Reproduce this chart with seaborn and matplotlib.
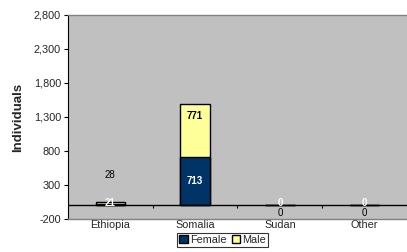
import matplotlib
matplotlib.use("Agg")
import matplotlib.pyplot as plt
import seaborn as sns
import pandas as pd
from matplotlib.ticker import FuncFormatter
from matplotlib.patches import Patch

# data
lande = ["Ethiopia", "Somalia", "Sudan", "Other"]
female = [21, 713, 0, 0]
male = [28, 771, 0, 0]
# where Excel put the male labels (value units)
male_label_y = [440, 1320, -110, -110]

sns.set_theme(style="white")
plt.rcParams['font.family'] = ['Liberation Sans', 'DejaVu Sans']

df = pd.DataFrame({"land": lande, "female": female, "male": male})
df["total"] = df["female"] + df["male"]

fig = plt.figure(figsize=(4.07, 2.52), dpi=100)
ax = fig.add_axes([0.167, 0.131, 0.833, 0.8095])
ax.set_facecolor("#C0C0C0")

sns.barplot(data=df, x="land", y="total", color="#FFFF99", edgecolor="black",
            linewidth=1, width=0.35, saturation=1, ax=ax)
sns.barplot(data=df, x="land", y="female", color="#003366", edgecolor="black",
            linewidth=1, width=0.35, saturation=1, ax=ax)

ax.set_ylim(-200, 2800)
ax.set_xlim(-0.5, 3.5)
ax.set_yticks(range(-200, 2801, 500))
ax.yaxis.set_major_formatter(FuncFormatter(lambda v, p: f"{int(v):,}"))
ax.tick_params(axis="y", length=3, width=0.8, color="black", labelsize=7.8, pad=2, left=True)
ax.tick_params(axis="x", length=0, labelsize=7.8, pad=1)
ax.set_xlabel("")
ax.set_ylabel("Individuals", fontsize=9.5, fontweight="bold", labelpad=7)

ax.axhline(0, color="black", lw=1)
ax.vlines([0.5, 1.5, 2.5], -45, 0, color="black", lw=0.8)

for s in ["top", "bottom"]:
    ax.spines[s].set_color("#808080")
    ax.spines[s].set_linewidth(1)
ax.spines["left"].set_color("black")
ax.spines["left"].set_linewidth(0.8)
ax.spines["right"].set_visible(False)

for i in range(len(lande)):
    f = female[i]
    ax.text(i, max(f / 2, 30), str(f), color="white", fontsize=7,
            fontweight="bold", ha="center", va="center")
    ax.text(i, male_label_y[i], str(male[i]), color="black", fontsize=7,
            fontweight="bold" if male[i] > 100 else "normal", ha="center", va="center")

handles = [Patch(facecolor="#003366", edgecolor="black", label="Female"),
           Patch(facecolor="#FFFF99", edgecolor="black", label="Male")]
leg = fig.legend(handles=handles, loc="center", bbox_to_anchor=(0.547, 0.048), ncol=2,
                 fontsize=7.8, frameon=True, fancybox=False, handlelength=0.8,
                 handleheight=0.8, handletextpad=0.2, columnspacing=0.5,
                 borderpad=0.2, borderaxespad=0)
leg.get_frame().set_edgecolor("black")
leg.get_frame().set_linewidth(0.8)

fig.savefig("out.png", dpi=100)
